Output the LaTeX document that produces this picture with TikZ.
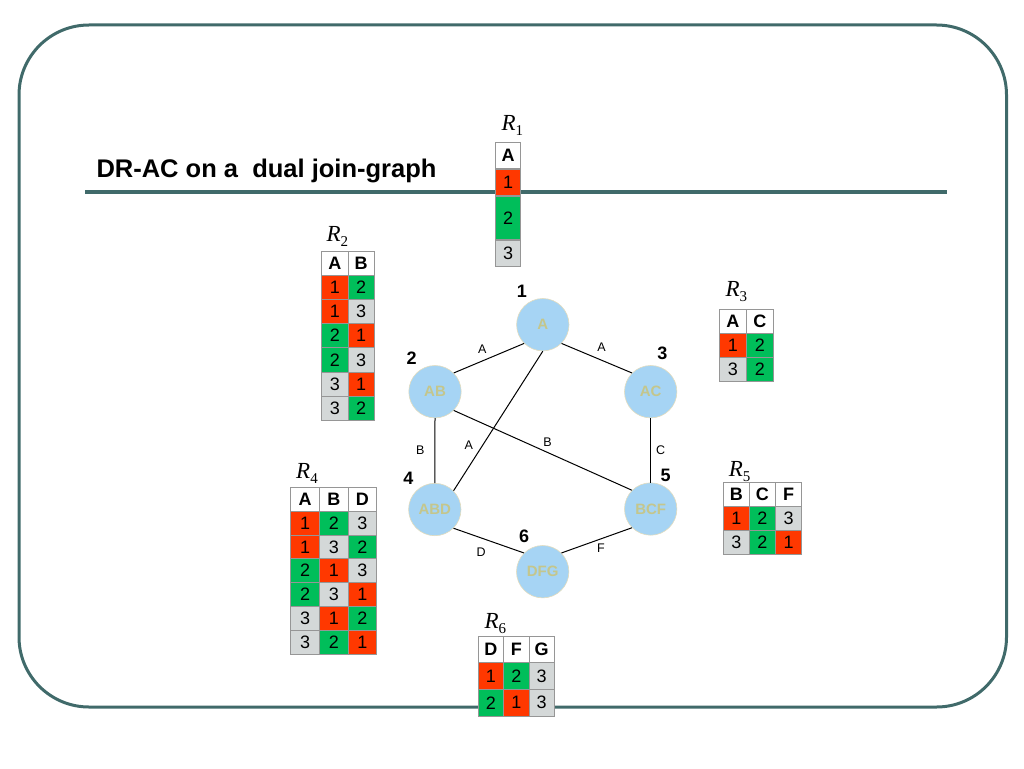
\documentclass[tikz,border=0pt]{standalone}
\usepackage{fontspec}
\setmainfont{Liberation Sans}
\newfontfamily\relfont{Liberation Serif}
\usetikzlibrary{positioning}

\definecolor{framecol}{RGB}{64,106,106}
\definecolor{nodeblue}{RGB}{166,212,244}
\definecolor{nodeedge}{RGB}{226,220,190}
\definecolor{nodetext}{RGB}{196,198,140}
\definecolor{val1}{RGB}{255,56,0}
\definecolor{val2}{RGB}{0,190,90}
\definecolor{val3}{RGB}{212,216,216}
\definecolor{cellline}{RGB}{150,150,150}

\newcommand{\rel}[1]{{\relfont\fontsize{23}{23}\selectfont\itshape R}\raisebox{-5pt}{\relfont\fontsize{15}{15}\selectfont #1}}

\tikzset{
  var/.style={circle, fill=nodeblue, draw=nodeedge, line width=0.6pt, minimum size=52.4pt, inner sep=0pt, text=nodetext, font=\bfseries\fontsize{15}{15}\selectfont},
  num/.style={font=\bfseries\fontsize{18}{18}\selectfont, inner sep=0pt},
  elab/.style={font=\fontsize{12.5}{12.5}\selectfont, inner sep=0pt},
  cell/.style={draw=cellline, line width=0.7pt, inner sep=0pt, font=\fontsize{18}{18}\selectfont},
  head/.style={cell, fill=white, font=\bfseries\fontsize{18}{18}\selectfont},
  rname/.style={anchor=base west, inner sep=0pt},
}

\begin{document}
\begin{tikzpicture}[x=1pt, y=-1pt, line width=1pt]
\useasboundingbox (0,0) rectangle (1024,768);
% frame and title
\draw[framecol, line width=3pt, rounded corners=70pt] (19,25) rectangle (1006.5,707);
\draw[framecol, line width=4pt] (85,191.5) -- (947,191.5);
\node[anchor=base west, inner sep=0pt, font=\bfseries\fontsize{25.5}{25.5}\selectfont] (title) at (96,177) {DR-AC on a~ dual join-graph};

% dual join-graph
\node[var] (n1) at (542.8,324.7) {A};
\node[var] (n2) at (435,391.7) {AB};
\node[var] (n3) at (650.7,391.7) {AC};
\node[var] (n4) at (434.8,509.5) {ABD};
\node[var] (n5) at (650.7,509) {BCF};
\node[var] (n6) at (542.7,571.7) {DFG};
\draw (n1.south west) -- node[elab, above left={4.5pt and 2pt}] {A} (n2.north east);
\draw (n1.south east) -- node[elab, above right={6pt and 0pt}] {A} (n3.north west);
\draw (n1.south) -- node[elab, pos=0.67, left=9.5pt] {A} (n4.north east);
\draw (n2.south) -- node[elab, left=10pt] {B} (n4.north);
\draw (n2.south east) -- node[elab, above right={3.5pt and 0pt}] {B} (n5.north west);
\draw (n3.south) -- node[elab, right=5pt] {C} (n5.north);
\draw (n4.south east) -- node[elab, below left={6.5pt and 2.5pt}] {D} (n6.north west);
\draw (n5.south west) -- node[elab, below right={3pt and 0pt}] {F} (n6.north east);
\node[num] (k1) at ([shift={(-21,-33)}]n1) {1};
\node[num] (k2) at ([shift={(-23.3,-33.4)}]n2) {2};
\node[num] (k3) at ([shift={(11.6,-38.4)}]n3) {3};
\node[num] (k4) at ([shift={(-26.4,-30.7)}]n4) {4};
\node[num] (k5) at ([shift={(15,-33.3)}]n5) {5};
\node[num] (k6) at ([shift={(-18.7,-35)}]n6) {6};

% R1
\begin{scope}[cell/.append style={minimum width=25pt}]
\node[head, minimum height=26pt] (r1-h) at (508.2,155.3) {A};
\node[cell, fill=val1, minimum height=26.7pt, below=0pt of r1-h] (r1-1) {1};
\node[cell, fill=val2, minimum height=43.3pt, below=0pt of r1-1] (r1-2) {2};
\node[cell, fill=val3, minimum height=25.7pt, below=0pt of r1-2] (r1-3) {3};
\end{scope}
\node[rname] (l1) at (501,130) {\rel{1}};

% R2
\begin{scope}[cell/.append style={minimum width=26.2pt, minimum height=24.2pt}]
\node[head] (r2-h1) at (334.8,263.1) {A};
\node[head] (r2-h2) at (361,263.1) {B};
\foreach \a/\b [count=\r] in {1/2,1/3,2/1,2/3,3/1,3/2} {
  \node[cell, fill=val\a] (r2-\r-1) at (334.8,{263.1+24.2*\r}) {\a};
  \node[cell, fill=val\b] (r2-\r-2) at (361,{263.1+24.2*\r}) {\b};
}
\end{scope}
\node[rname] (l2) at (326,241.7) {\rel{2}};

% R3
\begin{scope}[cell/.append style={minimum width=27pt, minimum height=24.1pt}]
\node[head] (r3-h1) at (732.8,321.35) {A};
\node[head] (r3-h2) at (759.8,321.35) {C};
\foreach \a/\b [count=\r] in {1/2,3/2} {
  \node[cell, fill=val\a] (r3-\r-1) at (732.8,{321.35+24.1*\r}) {\a};
  \node[cell, fill=val\b] (r3-\r-2) at (759.8,{321.35+24.1*\r}) {\b};
}
\end{scope}
\node[rname] (l3) at (725,296.7) {\rel{3}};

% R4
\begin{scope}[cell/.append style={minimum width=28.7pt, minimum height=23.8pt}]
\node[head] (r4-h1) at (305.05,499.2) {A};
\node[head] (r4-h2) at (333.75,499.2) {B};
\node[head] (r4-h3) at (362.45,499.2) {D};
\foreach \a/\b/\c [count=\r] in {1/2/3,1/3/2,2/1/3,2/3/1,3/1/2,3/2/1} {
  \node[cell, fill=val\a] (r4-\r-1) at (305.05,{499.2+23.8*\r}) {\a};
  \node[cell, fill=val\b] (r4-\r-2) at (333.75,{499.2+23.8*\r}) {\b};
  \node[cell, fill=val\c] (r4-\r-3) at (362.45,{499.2+23.8*\r}) {\c};
}
\end{scope}
\node[rname] (l4) at (295.7,478.3) {\rel{4}};

% R5
\begin{scope}[cell/.append style={minimum width=26.1pt, minimum height=23.9pt}]
\node[head] (r5-h1) at (736.35,494.65) {B};
\node[head] (r5-h2) at (762.45,494.65) {C};
\node[head] (r5-h3) at (788.55,494.65) {F};
\foreach \a/\b/\c [count=\r] in {1/2/3,3/2/1} {
  \node[cell, fill=val\a] (r5-\r-1) at (736.35,{494.65+23.9*\r}) {\a};
  \node[cell, fill=val\b] (r5-\r-2) at (762.45,{494.65+23.9*\r}) {\b};
  \node[cell, fill=val\c] (r5-\r-3) at (788.55,{494.65+23.9*\r}) {\c};
}
\end{scope}
\node[rname] (l5) at (728.3,476.7) {\rel{5}};

% R6
\begin{scope}[cell/.append style={minimum width=25.3pt, minimum height=26.7pt}]
\node[head] (r6-h1) at (490.95,649.35) {D};
\node[head] (r6-h2) at (516.25,649.35) {F};
\node[head] (r6-h3) at (541.55,649.35) {G};
\foreach \a/\b/\c [count=\r] in {1/2/3,2/1/3} {
  \node[cell, fill=val\a] (r6-\r-1) at (490.95,{649.35+26.7*\r}) {\a};
  \node[cell, fill=val\b] (r6-\r-2) at (516.25,{649.35+26.7*\r}) {\b};
  \node[cell, fill=val\c] (r6-\r-3) at (541.55,{649.35+26.7*\r}) {\c};
}
\end{scope}
\node[rname] (l6) at (484,628.3) {\rel{6}};
\end{tikzpicture}
\end{document}
